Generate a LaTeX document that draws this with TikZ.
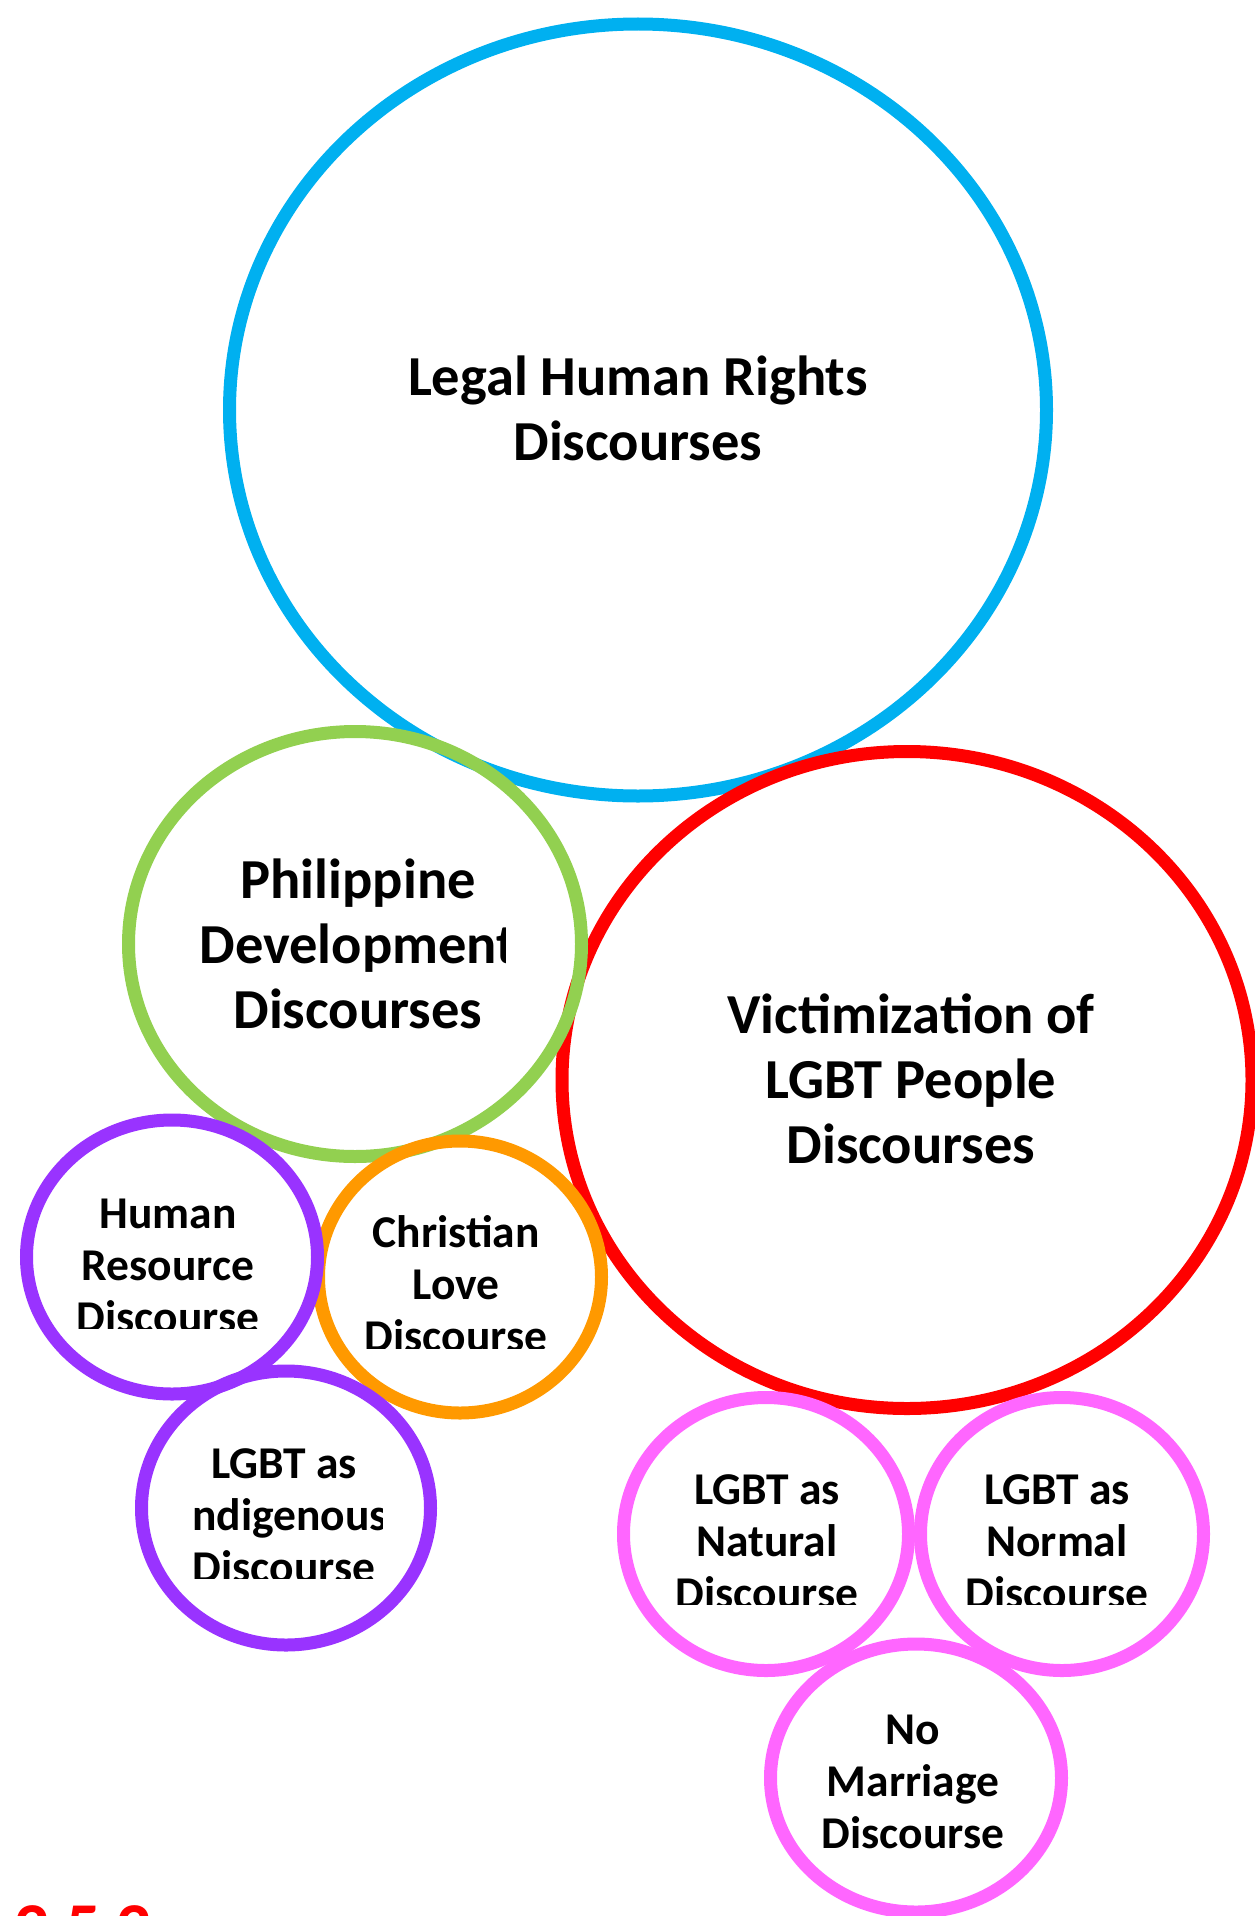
\documentclass[tikz,border=0pt]{standalone}
\usepackage{fontspec}
\setmainfont{Carlito}
\usepackage{tikz}
\usetikzlibrary{positioning}
\definecolor{myblue}{RGB}{0,176,240}
\definecolor{mygreen}{RGB}{146,208,80}
\definecolor{myred}{RGB}{255,0,0}
\definecolor{mypurple}{RGB}{153,51,255}
\definecolor{myorange}{RGB}{255,153,0}
\definecolor{mypink}{RGB}{255,102,255}
\tikzset{
  ring/.style={line width=13pt},
  bigtext/.style={align=center, inner sep=0pt, anchor=base,
    font=\fontsize{56.5}{65}\selectfont\bfseries},
  smalltext/.style={align=center, inner sep=0pt, anchor=base,
    font=\fontsize{45.5}{52}\selectfont\bfseries}
}

\begin{document}
\begin{tikzpicture}[x=1pt, y=-1pt]
  \useasboundingbox (0,0) rectangle (1254,1916);

  % ── Rings ──────────────────────────────────────────────────────────────
  \draw[ring, myblue] (638,410) ellipse [x radius=408.5, y radius=386];
  \draw[ring, myred] (907,1080) ellipse [x radius=345, y radius=328.5];
  \draw[ring, mygreen] (355,944) ellipse [x radius=226.5, y radius=212.5];
  \draw[ring, myorange] (460,1277) ellipse [x radius=141.5, y radius=136];
  \draw[ring, mypurple] (172,1257) ellipse [x radius=145.5, y radius=137];
  \draw[ring, mypurple] (286,1508) ellipse [x radius=144.5, y radius=137];
  \draw[ring, mypink] (766,1534) ellipse [x radius=142.5, y radius=136.5];
  \draw[ring, mypink] (1062,1534) ellipse [x radius=141.5, y radius=136.5];
  \draw[ring, mypink] (916,1778) ellipse [x radius=145.5, y radius=134];

  % ── Labels (placed by the baseline of their last line) ────────────────
  \node[bigtext] (legal) at (638,460) {Legal Human Rights\\Discourses};
  \begin{scope}
    \clip (0,0) rectangle (505,1916);
    \node[bigtext] (phil) at (358,1028) {Philippine\\Development\\Discourses};
  \end{scope}
  \node[bigtext] (victim) at (911,1163) {Victimization of\\LGBT People\\Discourses};

  \begin{scope}
    \clip (0,0) rectangle (1254,1328);
    \node[smalltext] (human) at (168,1332) {Human\\Resource\\Discourse};
  \end{scope}
  \begin{scope}
    \clip (0,0) rectangle (1254,1348);
    \node[smalltext] (christian) at (456,1351) {Christian\\Love\\Discourse};
  \end{scope}
  \begin{scope}
    \clip (192,0) rectangle (382,1578);
    \node[smalltext] (indigenous) at (284,1582) {LGBT as\\Indigenous\\Discourse};
  \end{scope}
  \begin{scope}
    \clip (0,0) rectangle (1254,1604);
    \node[smalltext] (natural) at (767,1608) {LGBT as\\Natural\\Discourse};
    \node[smalltext] (normal) at (1057,1608) {LGBT as\\Normal\\Discourse};
  \end{scope}
  \node[smalltext] (marriage) at (913,1848) {No\\Marriage\\Discourse};

  % page number, mostly below the edge
  \node[anchor=base west, inner sep=0pt, text=myred,
    font=\fontsize{70}{80}\selectfont\bfseries] (pagenum) at (14,1951) {2 5 2};
\end{tikzpicture}
\end{document}
